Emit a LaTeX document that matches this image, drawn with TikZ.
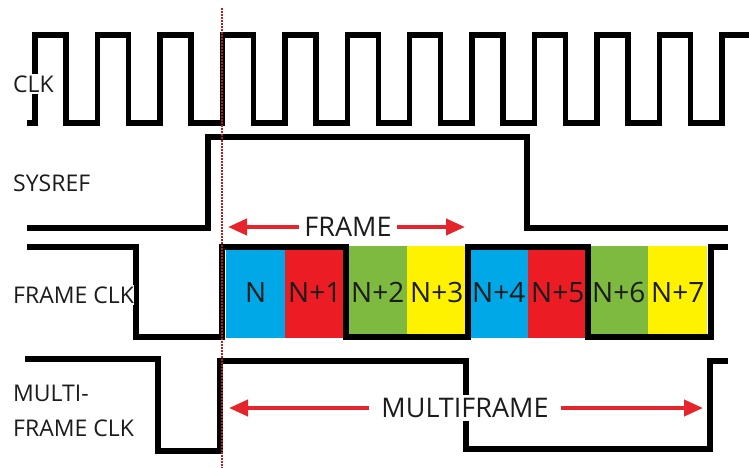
\documentclass[tikz,border=0pt]{standalone}
\usepackage{fontspec}
\setmainfont{Open Sans}
\usetikzlibrary{arrows.meta}
\definecolor{inkk}{HTML}{1C1C1C}
\definecolor{arrowred}{HTML}{E5242B}
\definecolor{slotblue}{HTML}{00A8E8}
\definecolor{slotred}{HTML}{EC1C24}
\definecolor{slotgreen}{HTML}{7DBA3F}
\definecolor{slotyellow}{HTML}{FFF200}
\begin{document}
\begin{tikzpicture}[x=1pt,y=-1pt,
  wave/.style={draw=black,line width=5.5pt,line join=miter},
  lbl/.style={anchor=west,inner xsep=0pt,inner ysep=2pt,fill=white,text=inkk,align=left,font=\fontsize{23}{35}\selectfont},
  slot/.style={rectangle,anchor=north west,inner sep=0pt,minimum width=59pt,minimum height=92pt,text=inkk,font=\fontsize{28}{30}\selectfont},
  span/.style={draw=arrowred,line width=4pt,-{Triangle[length=19pt,width=16pt]}},
  spantext/.style={text=inkk,fill=white,inner ysep=3pt,font=\fontsize{27}{30}\selectfont},
  guide/.style={draw=arrowred!80!black,line width=1.8pt,dash pattern=on 1.6pt off 1.4pt}]
\useasboundingbox (0,0) rectangle (749,468);
% frame slots
\foreach \i/\x/\c/\t in {0/226/slotblue/N,1/285/slotred/N+1,2/348/slotgreen/N+2,3/407/slotyellow/N+3,
  4/469/slotblue/N+4,5/528/slotred/N+5,6/589/slotgreen/N+6,7/648/slotyellow/N+7}{
  \node[slot,fill=\c] (s\i) at (\x,246) {\t};}
% waveforms
\draw[wave] (27,123) -- (35,123) \foreach \k in {0,...,10}{ -- ++(0,-88) -- ++(31,0) -- ++(0,88) -- ++(31.45,0)} -- ++(0,-88) -- (749,35);
\draw[wave] (27,228) -- (208,228) -- (208,137) -- (527,137) -- (527,228) -- (728,228);
\draw[wave] (27,247) -- (136,247) -- (136,337) -- (222,337) -- (222,247) -- (346,247) -- (346,337)
  -- (468,337) -- (468,247) -- (588,247) -- (588,337) -- (711,337) -- (711,247) -- (728,247);
\draw[wave] (25,359) -- (158,359) -- (158,451) -- (220,451) -- (220,361) -- (466,361) -- (466,449)
  -- (710,449) -- (710,361) -- (728,361);
% signal names
\node[lbl] (clk) at (13,84) {CLK};
\node[lbl] (sysref) at (13,183) {SYSREF};
\node[lbl] (fclk) at (13,295) {FRAME CLK};
\node[lbl] (mfclk) at (13,411) {MULTI-\\FRAME CLK};
% reference edge
\coordinate (gtop) at (222,8);
\coordinate (gbot) at (222,468);
\draw[guide] (gtop) -- (gbot);
% spans
\node[spantext,inner xsep=5pt] (frame) at (348,227) {FRAME};
\coordinate (fL) at (228,227);
\coordinate (fR) at (465,227);
\draw[span] (frame.west) -- (fL);
\draw[span] (frame.east) -- (fR);
\node[spantext,inner xsep=12pt] (mf) at (465,408) {MULTIFRAME};
\coordinate (mL) at (229,408);
\coordinate (mR) at (703,408);
\draw[span] (mf.west) -- (mL);
\draw[span] (mf.east) -- (mR);
\end{tikzpicture}
\end{document}
